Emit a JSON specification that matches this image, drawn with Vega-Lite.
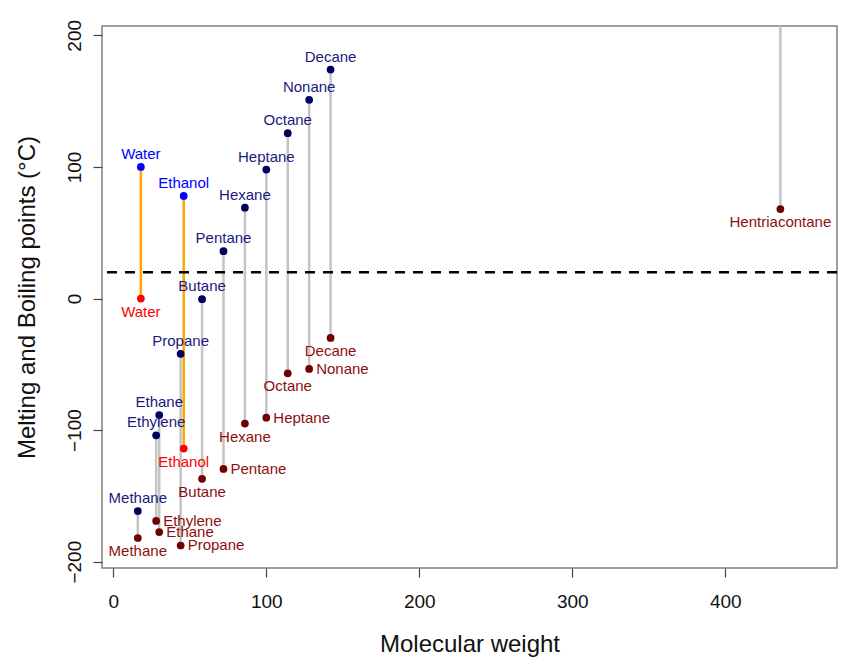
{
  "$schema": "https://vega.github.io/schema/vega-lite/v6.json",
  "width": 735,
  "height": 542,
  "autosize": "none",
  "padding": {"left": 102, "top": 26, "right": 15, "bottom": 98},
  "background": "white",
  "config": {
    "font": "Liberation Sans",
    "view": {"stroke": "#808080", "strokeWidth": 1.5}
  },
  "data": {
    "values": [
      {"name": "Methane", "mw": 16, "bp": -161.5, "mp": -182, "kind": "alkane"},
      {"name": "Ethylene", "mw": 28, "bp": -104, "mp": -169, "kind": "alkane"},
      {"name": "Ethane", "mw": 30, "bp": -88.6, "mp": -177.5, "kind": "alkane"},
      {"name": "Propane", "mw": 44, "bp": -42, "mp": -187.7, "kind": "alkane"},
      {"name": "Butane", "mw": 58, "bp": -0.5, "mp": -137, "kind": "alkane"},
      {"name": "Pentane", "mw": 72, "bp": 36, "mp": -129.5, "kind": "alkane"},
      {"name": "Hexane", "mw": 86, "bp": 69, "mp": -95, "kind": "alkane"},
      {"name": "Heptane", "mw": 100, "bp": 98, "mp": -90.6, "kind": "alkane"},
      {"name": "Octane", "mw": 114, "bp": 125.6, "mp": -56.8, "kind": "alkane"},
      {"name": "Nonane", "mw": 128, "bp": 151, "mp": -53.5, "kind": "alkane"},
      {"name": "Decane", "mw": 142, "bp": 174, "mp": -30, "kind": "alkane"},
      {"name": "Hentriacontane", "mw": 436, "bp": 458, "mp": 68, "kind": "alkane"},
      {"name": "Water", "mw": 18, "bp": 100, "mp": 0, "kind": "alcohol"},
      {"name": "Ethanol", "mw": 46, "bp": 78, "mp": -114, "kind": "alcohol"}
    ]
  },
  "layer": [
    {
      "mark": {"type": "rule", "strokeWidth": 2.5, "clip": true},
      "encoding": {
        "x": {
          "field": "mw", "type": "quantitative",
          "scale": {"domain": [-7.4, 473], "nice": false, "zero": false},
          "axis": {
            "title": "Molecular weight",
            "values": [0, 100, 200, 300, 400],
            "domain": false, "grid": false,
            "tickSize": 9, "tickColor": "#444", "tickWidth": 1.2,
            "labelFontSize": 19, "labelColor": "#111", "labelPadding": 15,
            "titleFontSize": 24, "titleFontWeight": "normal", "titleColor": "#111", "titlePadding": 21
          }
        },
        "y": {
          "field": "mp", "type": "quantitative",
          "scale": {"domain": [-204.8, 207.1], "nice": false, "zero": false},
          "axis": {
            "title": "Melting and Boiling points (°C)",
            "values": [-200, -100, 0, 100, 200],
            "domain": false, "grid": false,
            "tickSize": 9, "tickColor": "#444", "tickWidth": 1.2,
            "labelFontSize": 19, "labelColor": "#111", "labelAngle": -90,
            "labelAlign": "center", "labelBaseline": "bottom", "labelPadding": 9,
            "titleFontSize": 24, "titleFontWeight": "normal", "titleColor": "#111", "titlePadding": 26
          }
        },
        "y2": {"field": "bp"},
        "color": {"condition": {"test": "datum.kind === 'alcohol'", "value": "orange"}, "value": "#c4c4c4"}
      }
    },
    {
      "data": {"values": [{"roomTemp": 20}]},
      "mark": {"type": "rule", "strokeDash": [10, 8], "strokeWidth": 2.5, "color": "black"},
      "encoding": {
        "y": {"field": "roomTemp", "type": "quantitative"}
      }
    },
    {
      "mark": {"type": "circle", "size": 60, "opacity": 1, "clip": true},
      "encoding": {
        "x": {"field": "mw", "type": "quantitative"},
        "y": {"field": "bp", "type": "quantitative"},
        "color": {"condition": {"test": "datum.kind === 'alcohol'", "value": "blue"}, "value": "#000060"}
      }
    },
    {
      "mark": {"type": "circle", "size": 60, "opacity": 1},
      "encoding": {
        "x": {"field": "mw", "type": "quantitative"},
        "y": {"field": "mp", "type": "quantitative"},
        "color": {"condition": {"test": "datum.kind === 'alcohol'", "value": "red"}, "value": "#700000"}
      }
    },
    {
      "transform": [{"filter": "datum.bp < 200"}],
      "mark": {"type": "text", "fontSize": 15, "dy": -13, "align": "center", "baseline": "middle"},
      "encoding": {
        "x": {"field": "mw", "type": "quantitative"},
        "y": {"field": "bp", "type": "quantitative"},
        "text": {"field": "name"},
        "color": {"condition": {"test": "datum.kind === 'alcohol'", "value": "blue"}, "value": "#1a1a80"}
      }
    },
    {
      "transform": [{"filter": "indexof(['Ethylene','Ethane','Propane','Pentane','Heptane','Nonane'], datum.name) < 0"}],
      "mark": {"type": "text", "fontSize": 15, "dy": 13, "align": "center", "baseline": "middle"},
      "encoding": {
        "x": {"field": "mw", "type": "quantitative"},
        "y": {"field": "mp", "type": "quantitative"},
        "text": {"field": "name"},
        "color": {"condition": {"test": "datum.kind === 'alcohol'", "value": "red"}, "value": "#8b1010"}
      }
    },
    {
      "transform": [{"filter": "indexof(['Ethylene','Ethane','Propane','Pentane','Heptane','Nonane'], datum.name) >= 0"}],
      "mark": {"type": "text", "fontSize": 15, "dx": 7, "align": "left", "baseline": "middle"},
      "encoding": {
        "x": {"field": "mw", "type": "quantitative"},
        "y": {"field": "mp", "type": "quantitative"},
        "text": {"field": "name"},
        "color": {"value": "#8b1010"}
      }
    }
  ]
}
